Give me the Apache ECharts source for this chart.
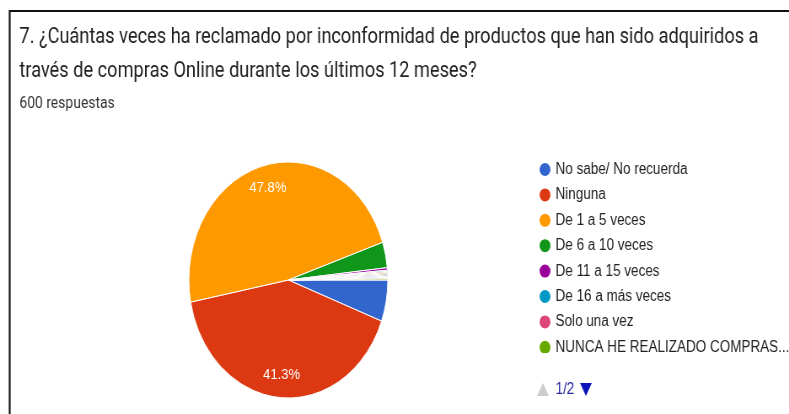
<!DOCTYPE html>
<html>
<head>
<meta charset="utf-8">
<script src="https://cdn.jsdelivr.net/npm/echarts@6/dist/echarts.min.js"></script>
<style>
  html, body { margin: 0; padding: 0; overflow: hidden; background: #fff; }
  #wrap { width: 789px; height: 414px; overflow: hidden; }
  #c { width: 936px; height: 414px; transform: scaleX(0.843); transform-origin: 0 0; }
</style>
</head>
<body>
<div id="wrap"><div id="c"></div></div>
<script>
const titleLines = [
  '7. ¿Cuántas veces ha reclamado por inconformidad de productos que han sido adquiridos a',
  'través de compras Online durante los últimos 12 meses?'
];
const subtitleText = '600 respuestas';
const categories = [
  'No sabe/ No recuerda',
  'Ninguna',
  'De 1 a 5 veces',
  'De 6 a 10 veces',
  'De 11 a 15 veces',
  'De 16 a más veces',
  'Solo una vez',
  'NUNCA HE REALIZADO COMPRAS ONLINE',
  'Una vez',
  'Dos veces',
  'Tres veces',
  'Nunca he reclamado',
  'Otro'
];
const responses = [34, 248, 287, 21, 2, 1, 1, 1, 1, 1, 1, 1, 1];
const colors = ['#3366CC', '#DC3912', '#FF9900', '#109618', '#990099', '#0099C6', '#DD4477', '#66AA00',
                '#B82E2E', '#316395', '#994499', '#22AA99', '#AAAA11'];
const pageText = '1/2';

const data = categories.map((n, i) => ({ name: n, value: responses[i] }));

const chart = echarts.init(document.getElementById('c'), null, { renderer: 'canvas' });
const center = [342, 280];
chart.setOption({
  animation: false,
  color: colors,
  title: [
    {
      text: titleLines.join('\n'),
      left: 23, top: 21, padding: 0,
      textStyle: { fontFamily: 'Roboto', fontSize: 21.6, fontWeight: 'normal', color: '#202124', lineHeight: 34 }
    },
    {
      text: subtitleText,
      left: 23, top: 95, padding: 0,
      textStyle: { fontFamily: 'Roboto', fontSize: 16.5, fontWeight: 'normal', color: '#333', lineHeight: 17 }
    }
  ],
  graphic: [
    {
      type: 'rect', silent: true,
      shape: { x: 11.5, y: 11, width: 1000, height: 500 },
      style: { fill: 'none', stroke: '#111', lineWidth: 2.2 }
    },
    {
      type: 'polygon', silent: true,
      shape: { points: [[644, 383], [651, 396], [637, 396]] },
      style: { fill: '#cccccc' }
    },
    {
      type: 'text', silent: true,
      x: 659, y: 390,
      style: { text: pageText, font: '16px "Liberation Sans"', fill: '#2828a0', verticalAlign: 'middle' }
    },
    {
      type: 'polygon', silent: true,
      shape: { points: [[688, 383], [702, 383], [695, 396]] },
      style: { fill: '#0a14b8' }
    }
  ],
  legend: {
    type: 'scroll',
    orient: 'vertical',
    left: 638, top: 161, height: 240,
    padding: 0,
    itemWidth: 15, itemHeight: 15,
    itemGap: 8.4,
    icon: 'circle',
    data: categories,
    formatter: function (n) { return n.length > 27 ? n.slice(0, 26) + '...' : n; },
    textStyle: { fontFamily: 'Liberation Sans', fontSize: 16, color: '#222', lineHeight: 16 },
    pageButtonPosition: 'end',
    pageButtonGap: 32,
    pageButtonItemGap: 7,
    pageIconSize: [14, 14],
    pageIconColor: 'rgba(0,0,0,0)',
    pageIconInactiveColor: 'rgba(0,0,0,0)',
    pageTextStyle: { fontFamily: 'Liberation Sans', fontSize: 16, color: 'rgba(0,0,0,0)' }
  },
  series: [
    {
      type: 'pie',
      center: center,
      radius: [0, 118],
      startAngle: 0,
      clockwise: true,
      data: data,
      label: { show: false },
      labelLine: { show: false },
      itemStyle: { borderColor: '#fff', borderWidth: 1 }
    },
    {
      type: 'pie',
      center: center,
      radius: [67, 118],
      startAngle: 0,
      clockwise: true,
      silent: true,
      data: data,
      itemStyle: { color: 'rgba(0,0,0,0)', borderWidth: 0 },
      label: {
        show: true,
        position: 'inside',
        fontFamily: 'Liberation Sans',
        fontSize: 15.5,
        color: '#fff',
        formatter: function (p) { return p.percent >= 10 ? p.percent.toFixed(1) + '%' : ''; }
      },
      labelLine: { show: false }
    }
  ]
});
</script>
</body>
</html>
